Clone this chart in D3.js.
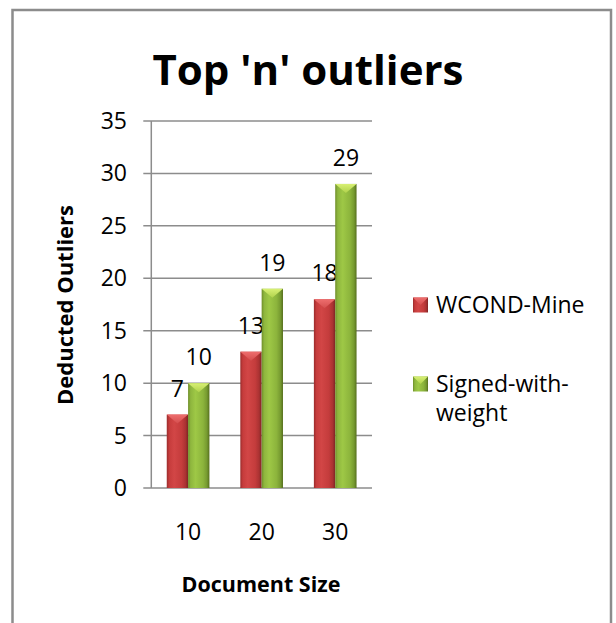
<!DOCTYPE html>
<meta charset="utf-8">
<style>
body { margin: 0; background: #fff; }
text { font-family: "Open Sans", "DejaVu Sans", sans-serif; fill: #000; }
.grid line { stroke: #8c8c8c; stroke-width: 1.5; }
</style>
<svg width="616" height="623"></svg>
<script src="https://cdn.jsdelivr.net/npm/d3@7/dist/d3.min.js"></script>
<script>
var categories = ["10", "20", "30"];
var seriesNames = ["WCOND-Mine", "Signed-with-weight"];
var wcondMine = [7, 13, 18];
var signedWithWeight = [10, 19, 29];
var yTicks = [0, 5, 10, 15, 20, 25, 30, 35];

var svg = d3.select("svg");
var plot = {left: 151.3, right: 372, top: 121, bottom: 488};

var data = categories.map(function(c, i) {
  return {cat: c, values: [wcondMine[i], signedWithWeight[i]]};
});

var x = d3.scaleBand().domain(categories)
    .range([plot.left, plot.right]).paddingInner(0.42).paddingOuter(0.21);
var xs = d3.scaleBand().domain(seriesNames).range([0, x.bandwidth()]);
var y = d3.scaleLinear().domain([0, 35]).range([plot.bottom, plot.top]);

// gradients, one per series
var looks = [
  {stops: ["#9a2c2c", "#c63c3c", "#d24646", "#c43c3c", "#aa3232", "#7e2424"], top: "#ee6e6e", topEnd: "#d44e4e"},
  {stops: ["#6f8e2a", "#8eb63e", "#9ec846", "#8cb43c", "#769a30", "#566f1e"], top: "#d8f074", topEnd: "#b0d24c"}
];
var defs = svg.append("defs");
looks.forEach(function(l, i) {
  var g = defs.append("linearGradient").attr("id", "g" + i)
      .attr("x1", 0).attr("x2", 1).attr("y1", 0).attr("y2", 0);
  [0, 0.12, 0.35, 0.7, 0.88, 1].forEach(function(o, k) {
    g.append("stop").attr("offset", o).attr("stop-color", l.stops[k]);
  });
  var t = defs.append("linearGradient").attr("id", "t" + i)
      .attr("x1", 0).attr("x2", 0).attr("y1", 0).attr("y2", 1);
  t.append("stop").attr("offset", 0).attr("stop-color", l.top);
  t.append("stop").attr("offset", 1).attr("stop-color", l.topEnd);
});

// outer frame
svg.append("rect")
    .attr("x", 12.5).attr("y", 10).attr("width", 598.5).attr("height", 640)
    .attr("fill", "#fff").attr("stroke", "#8c8c8c").attr("stroke-width", 2.5);

// title
svg.append("text")
    .attr("x", 308).attr("y", 85)
    .attr("text-anchor", "middle")
    .style("font-size", "42px").style("font-weight", "bold")
    .text("Top 'n' outliers");

// gridlines + y labels
var grid = svg.append("g").attr("class", "grid");
grid.selectAll("line").data(yTicks).enter().append("line")
    .attr("x1", plot.left - 8).attr("x2", plot.right)
    .attr("y1", function(d) { return y(d); })
    .attr("y2", function(d) { return y(d); });
grid.append("line")
    .attr("x1", plot.left).attr("x2", plot.left)
    .attr("y1", plot.top).attr("y2", plot.bottom);

svg.append("g").selectAll("text").data(yTicks).enter().append("text")
    .attr("x", 127)
    .attr("y", function(d) { return y(d); })
    .attr("dy", "0.35em")
    .attr("text-anchor", "end")
    .style("font-size", "23px")
    .text(function(d) { return d; });

// x labels
svg.append("g").selectAll("text").data(categories).enter().append("text")
    .attr("x", function(d) { return x(d) + x.bandwidth() / 2; })
    .attr("y", 540)
    .attr("text-anchor", "middle")
    .style("font-size", "23px")
    .text(function(d) { return d; });

// axis titles
svg.append("text")
    .attr("transform", "translate(73,305) rotate(-90)")
    .attr("text-anchor", "middle")
    .style("font-size", "22px").style("font-weight", "bold")
    .text("Deducted Outliers");
svg.append("text")
    .attr("x", 261).attr("y", 592)
    .attr("text-anchor", "middle")
    .style("font-size", "21.5px").style("font-weight", "bold")
    .text("Document Size");

// bars
var groups = svg.append("g").selectAll("g").data(data).enter().append("g")
    .attr("transform", function(d) { return "translate(" + x(d.cat) + ",0)"; });

var bars = groups.selectAll("g").data(function(d) {
  return d.values.map(function(v, i) { return {s: seriesNames[i], i: i, v: v}; });
}).enter().append("g");

bars.append("rect")
    .attr("x", function(d) { return xs(d.s); })
    .attr("y", function(d) { return y(d.v); })
    .attr("width", xs.bandwidth())
    .attr("height", function(d) { return y(0) - y(d.v); })
    .attr("fill", function(d) { return "url(#g" + d.i + ")"; });

bars.append("path")
    .attr("d", function(d) {
      var x0 = xs(d.s), w = xs.bandwidth(), t = y(d.v);
      return "M" + x0 + "," + t + "L" + (x0 + w) + "," + t + "L" + (x0 + w / 2) + "," + (t + 9) + "Z";
    })
    .attr("fill", function(d) { return "url(#t" + d.i + ")"; });

bars.append("text")
    .attr("x", function(d) { return xs(d.s) + xs.bandwidth() / 2; })
    .attr("y", function(d) { return y(d.v) - 18; })
    .attr("text-anchor", "middle")
    .style("font-size", "23px")
    .text(function(d) { return d.v; });

// legend
var legend = svg.append("g");
var legendY = [305, 384];
var legendLines = [["WCOND-Mine"], ["Signed-with-", "weight"]];
seriesNames.forEach(function(s, i) {
  var cy = legendY[i];
  legend.append("rect")
      .attr("x", 413).attr("y", cy - 7.5).attr("width", 15).attr("height", 15)
      .attr("fill", "url(#g" + i + ")");
  legend.append("path")
      .attr("d", "M413," + (cy - 7.5) + "L428," + (cy - 7.5) + "L420.5," + (cy) + "Z")
      .attr("fill", "url(#t" + i + ")");
  var t = legend.append("text").attr("x", 436).attr("y", cy + 8)
      .style("font-size", "23px");
  legendLines[i].forEach(function(line, k) {
    t.append("tspan").attr("x", 436).attr("dy", k === 0 ? 0 : 28.5).text(line);
  });
});
</script>
